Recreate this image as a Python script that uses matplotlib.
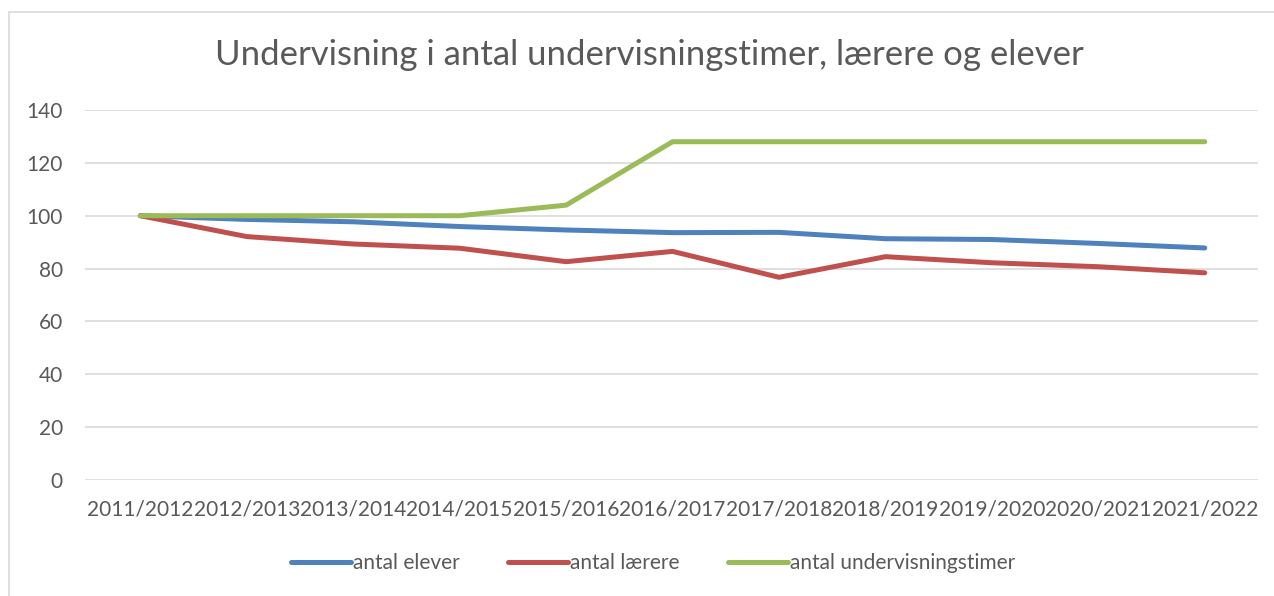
import numpy as np
import matplotlib
matplotlib.use("Agg")
import matplotlib.pyplot as plt
from matplotlib.patches import Rectangle

# data
years = ["2011/2012", "2012/2013", "2013/2014", "2014/2015", "2015/2016",
         "2016/2017", "2017/2018", "2018/2019", "2019/2020", "2020/2021",
         "2021/2022"]
elever = [100, 98.6, 97.7, 95.9, 94.6, 93.6, 93.7, 91.3, 91.0, 89.5, 87.8]
laerere = [100, 92.1, 89.3, 87.7, 82.6, 86.5, 76.7, 84.5, 82.2, 80.7, 78.4]
timer = [100, 100, 100, 100, 104, 128, 128, 128, 128, 128, 128]
yticks = [0, 20, 40, 60, 80, 100, 120, 140]

plt.rcParams['font.family'] = ['Lato', 'DejaVu Sans']
txt = '#595959'
grid = '#D9D9D9'

fig = plt.figure(figsize=(12.74, 5.96), dpi=100)
ax = fig.add_axes([85/1274, 1-480/596, (1258-85)/1274, 370/596])

x = np.arange(len(years))
lw = 3.6
ax.plot(x, elever, color='#4F81BD', lw=lw, solid_capstyle='round', label='antal elever', zorder=3)
ax.plot(x, laerere, color='#C0504D', lw=lw, solid_capstyle='round', label='antal lærere', zorder=3)
ax.plot(x, timer, color='#9BBB59', lw=lw, solid_capstyle='round', label='antal undervisningstimer', zorder=3)

ax.set_xlim(-0.52, 10.5)
ax.set_ylim(0, 140)
ax.set_yticks(yticks)
ax.set_xticks(x)
ax.set_xticklabels(years)
ax.tick_params(axis='both', length=0, colors=txt, labelsize=15)
ax.tick_params(axis='y', pad=16)
ax.tick_params(axis='x', pad=14)
for s in ax.spines.values():
    s.set_visible(False)
for v in yticks:
    ax.axhline(v, color=grid, lw=1.2, zorder=1)

fig.text(649/1274, 1-55/596, 'Undervisning i antal undervisningstimer, lærere og elever',
         ha='center', va='center', fontsize=25, color=txt)

leg = fig.legend(loc='center', bbox_to_anchor=(653/1274, 1-563/596), ncol=3,
                 frameon=False, fontsize=15, handlelength=2.9, handletextpad=0.1,
                 columnspacing=2.3)
for t in leg.get_texts():
    t.set_color(txt)

# outer chart border
fig.patches.append(Rectangle((9/1274, -0.01), 1.1, 1-12/596+0.01,
                             transform=fig.transFigure, fill=False,
                             edgecolor=grid, lw=1.2))

fig.savefig('out.png', dpi=100)
